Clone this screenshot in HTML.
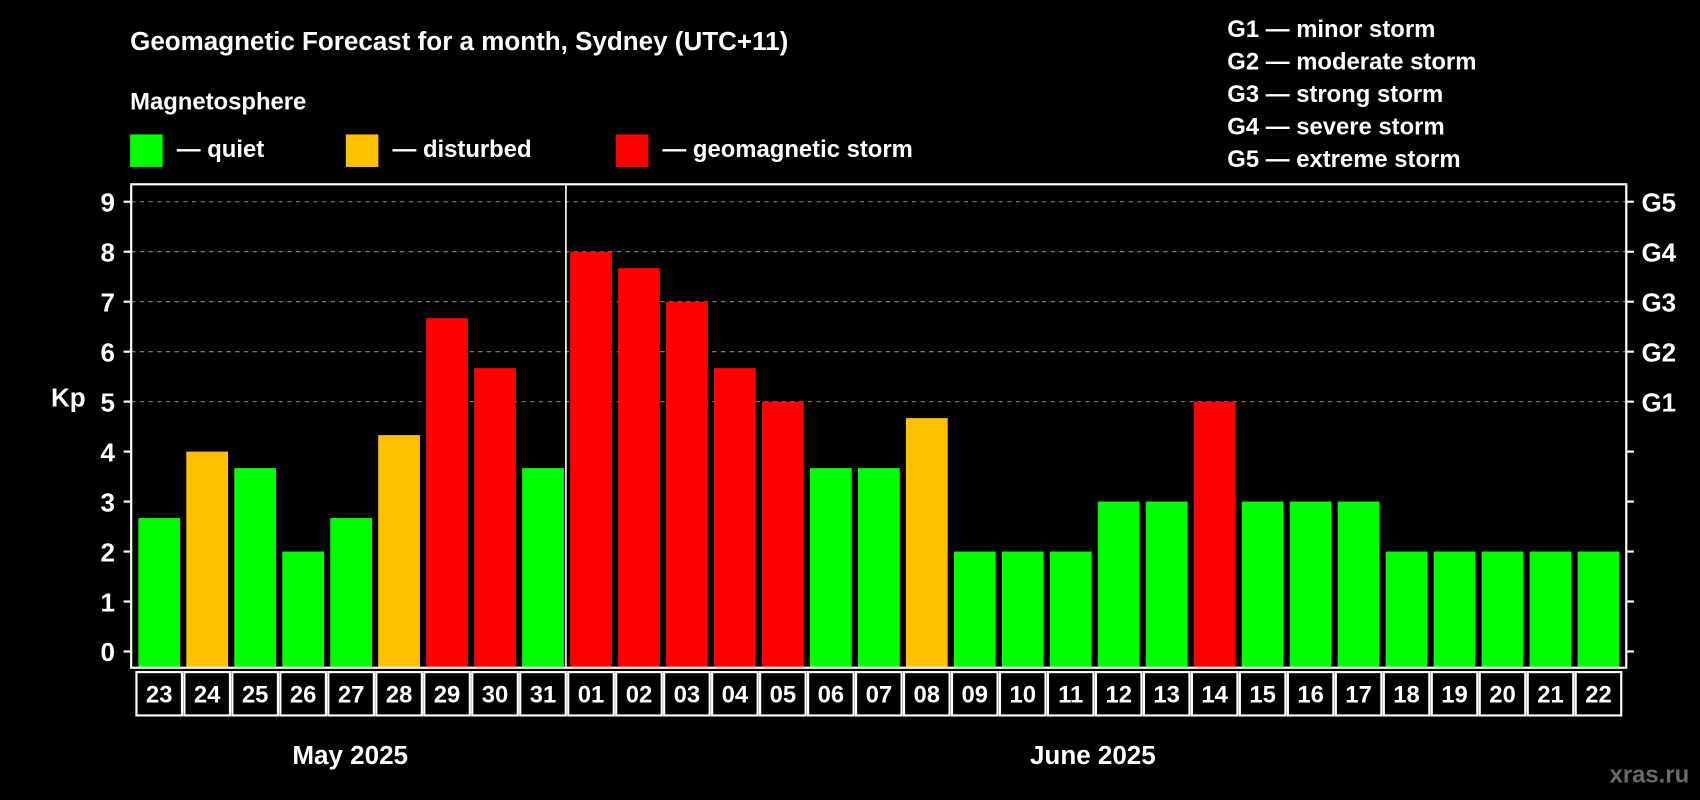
<!DOCTYPE html>
<html><head><meta charset="utf-8"><style>
html,body{margin:0;padding:0;background:#000;width:1700px;height:800px;overflow:hidden}
svg{display:block}
text{font-family:"Liberation Sans",sans-serif;font-weight:bold;fill:#fff}
</style></head><body>
<svg id="c" width="1700" height="800" viewBox="0 0 1568 738" preserveAspectRatio="none">
<text x="120" y="46" font-size="24">Geomagnetic Forecast for a month, Sydney (UTC+11)</text>
<text x="120" y="101" font-size="22">Magnetosphere</text>
<g><rect x="120" y="124" width="30" height="30" fill="#00ff00"/><text x="163" y="145" font-size="22">— quiet</text></g>
<g><rect x="319" y="124" width="30" height="30" fill="#ffc000"/><text x="362" y="145" font-size="22">— disturbed</text></g>
<g><rect x="568" y="124" width="30" height="30" fill="#ff0000"/><text x="611" y="145" font-size="22">— geomagnetic storm</text></g>
<g font-size="22">
<text x="1132" y="34">G1 — minor storm</text>
<text x="1132" y="64">G2 — moderate storm</text>
<text x="1132" y="94">G3 — strong storm</text>
<text x="1132" y="124">G4 — severe storm</text>
<text x="1132" y="154">G5 — extreme storm</text>
</g>
<text x="47" y="375" font-size="24">Kp</text>
<text x="323" y="705" font-size="24" text-anchor="middle">May 2025</text>
<text x="1008" y="705" font-size="24" text-anchor="middle">June 2025</text>
<text x="1558" y="722" font-size="22" text-anchor="end" fill="#777" style="fill:#6a6a6a">xras.ru</text>
<g id="plot"></g>
</svg>
<script>
const days=["23","24","25","26","27","28","29","30","31","01","02","03","04","05","06","07","08","09","10","11","12","13","14","15","16","17","18","19","20","21","22"];
const kpValues=[2.67,4,3.67,2,2.67,4.33,6.67,5.67,3.67,8,7.67,7,5.67,5,3.67,3.67,4.67,2,2,2,3,3,5,3,3,3,2,2,2,2,2];
const yTicks=[0,1,2,3,4,5,6,7,8,9];
const gLabels=["G1","G2","G3","G4","G5"];
const gLevels=[5,6,7,8,9];
const NS="http://www.w3.org/2000/svg";
const L=121,R=1500,T=170,B=616;
const y=v=>601-v*46.1;
const x0=127.6,step=44.25,bw=38.5;
const xb=i=>x0+i*step;
const g=document.getElementById('plot');
function mk(t,a){const e=document.createElementNS(NS,t);for(const k in a)e.setAttribute(k,a[k]);g.appendChild(e);return e;}
function color(v){return v<4?"#00ff00":(v<5?"#ffc000":"#ff0000");}
// grid
yTicks.forEach(v=>{if(v>=5){const l=mk('line',{x1:L,x2:R,y1:y(v),y2:y(v),stroke:'#888','stroke-dasharray':'4,4','stroke-width':1});

}});
// bars
kpValues.forEach((v,i)=>{const r=mk('rect',{x:xb(i),y:y(v),width:bw,height:B-y(v),fill:color(v)});

});
// frame
const f=mk('rect',{x:L,y:T,width:R-L,height:B-T,fill:'none',stroke:'#fff','stroke-width':2});


// month separator
const sep=mk('line',{x1:522,x2:522,y1:T,y2:B,stroke:'#fff','stroke-width':1.5});


// y ticks
yTicks.forEach(v=>{mk('line',{x1:L-7,x2:L,y1:y(v),y2:y(v),stroke:'#fff','stroke-width':2});
mk('line',{x1:R,x2:R+7,y1:y(v),y2:y(v),stroke:'#fff','stroke-width':2});
const t=mk('text',{x:106,y:y(v)+9,'font-size':24,'text-anchor':'end'});t.textContent=v;

});
gLabels.forEach((s,i)=>{const t=mk('text',{x:1514,y:y(gLevels[i])+9,'font-size':24});t.textContent=s;

});
// day boxes
days.forEach((d,i)=>{const cx=xb(i)+bw/2;
const r=mk('rect',{x:cx-21,y:620,width:42,height:40,fill:'none',stroke:'#fff','stroke-width':2});


const t=mk('text',{x:cx,y:648,'font-size':22,'text-anchor':'middle'});t.textContent=d;

});
</script>
</body></html>
